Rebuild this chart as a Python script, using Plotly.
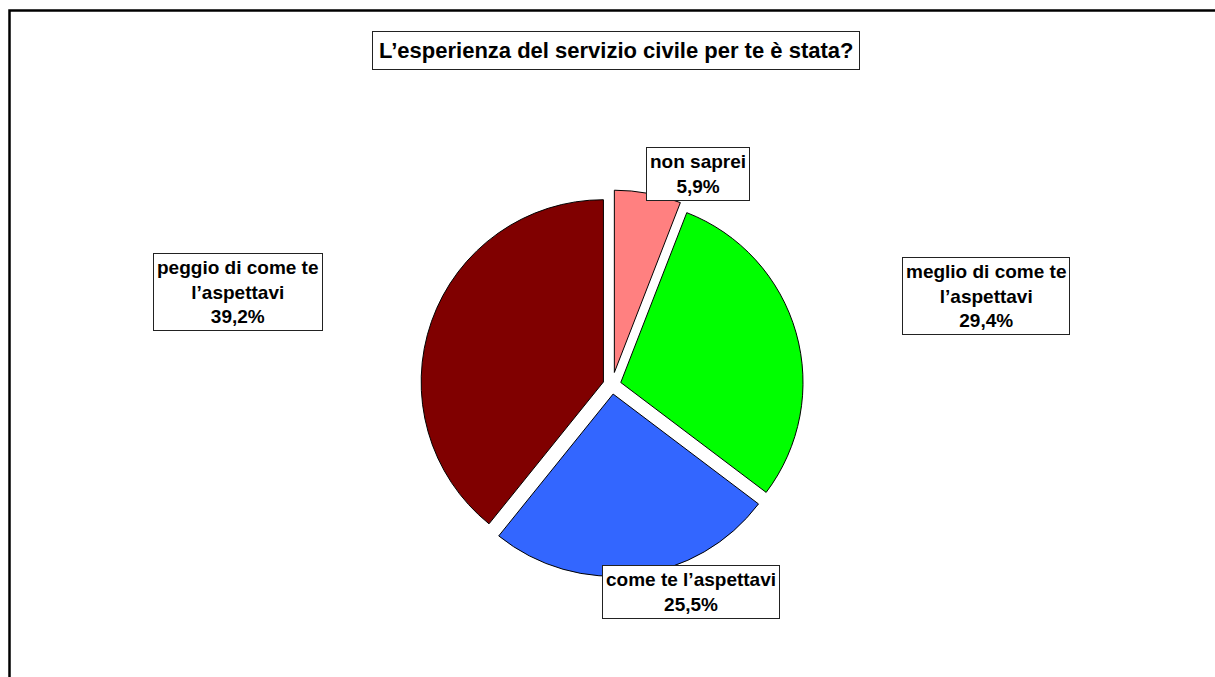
import plotly.graph_objects as go

categories = ["non saprei", "meglio di come te l\u2019aspettavi", "come te l\u2019aspettavi", "peggio di come te l\u2019aspettavi"]
values = [5.9, 29.4, 25.5, 39.2]
label_texts = ["non saprei<br>5,9%", "meglio di come te<br>l\u2019aspettavi<br>29,4%",
               "come te l\u2019aspettavi<br>25,5%", "peggio di come te<br>l\u2019aspettavi<br>39,2%"]
colors = ["#FF8080", "#00FF00", "#3366FF", "#800000"]
title_text = "L\u2019esperienza del servizio civile per te \u00e8 stata?"

W, H = 1215, 677
cx, cy, r = 612, 385, 195

fig = go.Figure(go.Pie(
    labels=categories,
    values=values,
    sort=False,
    direction="clockwise",
    rotation=0,
    pull=[0.07, 0.05, 0.05, 0.05],
    marker=dict(colors=colors, line=dict(color="black", width=1)),
    textinfo="none",
    hoverinfo="label+percent",
    showlegend=False,
    domain=dict(x=[(cx - r) / W, (cx + r) / W], y=[1 - (cy + r) / H, 1 - (cy - r) / H]),
))

# label box positions (pixel centers)
label_pos = [(698, 174), (986, 296), (691, 592), (238, 292)]
for txt, (px, py) in zip(label_texts, label_pos):
    fig.add_annotation(x=px / W, y=1 - py / H, xref="paper", yref="paper",
                       xanchor="center", yanchor="middle",
                       text="<b>" + txt + "</b>",
                       showarrow=False, align="center",
                       font=dict(family="Liberation Sans, Arial", size=19, color="black"),
                       bgcolor="white", bordercolor="#222222", borderwidth=1, borderpad=3)

fig.add_annotation(x=616 / W, y=1 - 50 / H, xref="paper", yref="paper",
                   xanchor="center", yanchor="middle",
                   text="<b>" + title_text + "</b>", showarrow=False,
                   font=dict(family="Liberation Sans, Arial", size=22, color="black"),
                   bgcolor="white", bordercolor="#222222", borderwidth=1, borderpad=6)

# outer chart border
fig.add_shape(type="rect", xref="paper", yref="paper",
              x0=9.5 / W, x1=1.02, y0=-0.02, y1=1 - 10.5 / H,
              line=dict(color="black", width=2.5), fillcolor="rgba(0,0,0,0)")

fig.update_layout(width=W, height=H, margin=dict(l=0, r=0, t=0, b=0),
                  paper_bgcolor="white", plot_bgcolor="white")

fig.write_html("out.html", config={"displayModeBar": False},
               post_script="document.body.style.margin='0';document.body.style.overflow='hidden';")
